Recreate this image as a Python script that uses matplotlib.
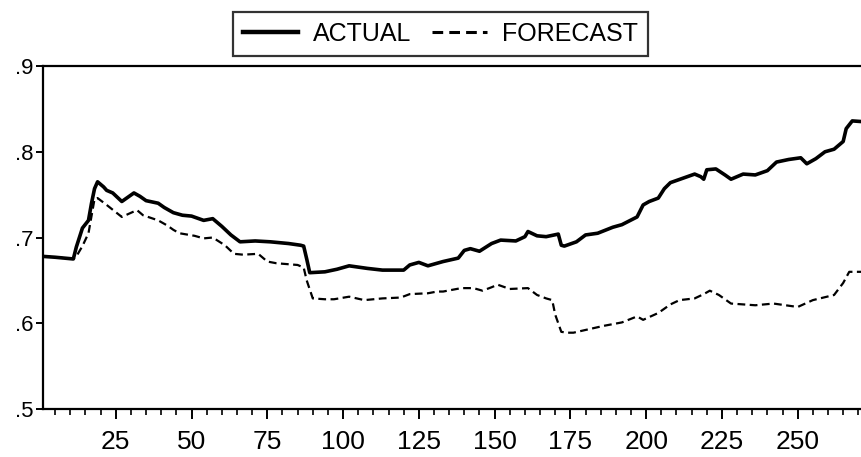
import matplotlib
matplotlib.use("Agg")
import matplotlib.pyplot as plt
from matplotlib.ticker import MultipleLocator, FixedLocator

plt.rcParams['font.family'] = ['Liberation Sans', 'DejaVu Sans']

actual_obs = [1, 5, 11, 12, 14, 16, 17, 18, 19, 21, 22, 24, 27, 31, 33, 35, 39, 41, 44,
              47, 50, 54, 57, 60, 63, 66, 71, 76, 82, 86, 87, 88, 89, 94, 98, 102, 108,
              113, 120, 122, 125, 128, 131, 133, 138, 140, 142, 145, 149, 152, 157, 160,
              161, 164, 167, 171, 172, 173, 177, 180, 184, 189, 192, 197, 199, 201, 204,
              206, 208, 212, 216, 218, 219, 220, 223, 226, 228, 232, 236, 240, 243, 247,
              251, 253, 256, 259, 262, 265, 266, 268, 272]
actual = [0.678, 0.677, 0.675, 0.689, 0.711, 0.720, 0.740, 0.757, 0.765, 0.759, 0.755,
          0.752, 0.742, 0.752, 0.748, 0.743, 0.740, 0.735, 0.729, 0.726, 0.725, 0.720,
          0.722, 0.713, 0.703, 0.695, 0.696, 0.695, 0.693, 0.691, 0.690, 0.675, 0.659,
          0.660, 0.663, 0.667, 0.664, 0.662, 0.662, 0.668, 0.671, 0.667, 0.670, 0.672,
          0.676, 0.685, 0.687, 0.684, 0.693, 0.697, 0.696, 0.701, 0.707, 0.702, 0.701,
          0.704, 0.691, 0.690, 0.695, 0.703, 0.705, 0.712, 0.715, 0.724, 0.738, 0.742,
          0.746, 0.757, 0.764, 0.769, 0.774, 0.771, 0.768, 0.779, 0.780, 0.773, 0.768,
          0.774, 0.773, 0.778, 0.788, 0.791, 0.793, 0.786, 0.792, 0.800, 0.803, 0.812,
          0.827, 0.836, 0.835]

forecast_obs = [1, 5, 11, 12, 14, 16, 17, 18, 19, 22, 27, 32, 34, 39, 42, 44, 46, 51, 54,
                57, 61, 64, 67, 72, 75, 78, 85, 87, 88, 90, 94, 97, 102, 107, 113, 119,
                122, 128, 131, 133, 139, 143, 146, 149, 151, 155, 161, 164, 167, 169, 170,
                172, 174, 176, 181, 186, 192, 197, 199, 204, 208, 211, 216, 219, 221, 224,
                228, 236, 242, 250, 255, 262, 265, 267, 272]
forecast = [0.678, 0.677, 0.675, 0.678, 0.690, 0.705, 0.725, 0.745, 0.746, 0.738, 0.724,
            0.732, 0.726, 0.720, 0.714, 0.709, 0.705, 0.702, 0.699, 0.700, 0.691, 0.681,
            0.680, 0.681, 0.672, 0.670, 0.668, 0.665, 0.650, 0.629, 0.628, 0.628, 0.631,
            0.627, 0.629, 0.630, 0.634, 0.635, 0.637, 0.637, 0.641, 0.641, 0.638, 0.642,
            0.645, 0.640, 0.641, 0.633, 0.629, 0.627, 0.610, 0.590, 0.589, 0.589, 0.593,
            0.597, 0.601, 0.608, 0.604, 0.612, 0.622, 0.627, 0.629, 0.634, 0.638, 0.633,
            0.623, 0.621, 0.623, 0.619, 0.627, 0.633, 0.647, 0.660, 0.660]

y_ticks = [0.5, 0.6, 0.7, 0.8, 0.9]
y_labels = ['.5', '.6', '.7', '.8', '.9']
x_ticks = [25, 50, 75, 100, 125, 150, 175, 200, 225, 250]

fig = plt.figure(figsize=(8.62, 4.57), dpi=100)
# axes run past the right edge, as in the cropped original
ax = fig.add_axes([0.0499, 0.105, 0.981, 0.7505])

ax.plot(actual_obs, actual, color='black', linewidth=2.6, label='ACTUAL')
ax.plot(forecast_obs, forecast, color='black', linewidth=1.6,
        dashes=(3.5, 2), label='FORECAST')

ax.set_xlim(1, 280)
ax.set_ylim(0.5, 0.9)

ax.set_yticks(y_ticks)
ax.set_yticklabels(y_labels, fontsize=16)
ax.xaxis.set_major_locator(FixedLocator(x_ticks))
ax.xaxis.set_minor_locator(MultipleLocator(5))
ax.tick_params(axis='x', which='major', length=7, width=1.4, labelsize=19, pad=8)
ax.tick_params(axis='x', which='minor', length=4, width=1.2)
ax.tick_params(axis='y', which='major', length=5, width=1.4, pad=2)

for side in ['left', 'bottom', 'top']:
    ax.spines[side].set_linewidth(1.6)
ax.spines['right'].set_visible(False)

leg = fig.legend(loc='center', bbox_to_anchor=(0.511, 0.926), ncol=2,
                 fontsize=18, frameon=True, fancybox=False, edgecolor='black',
                 handlelength=2.2, handletextpad=0.6, columnspacing=0.8,
                 borderpad=0.4)
leg.get_frame().set_linewidth(1.6)
for line in leg.get_lines():
    line.set_linewidth(line.get_linewidth() + 0.6)

fig.savefig('out.png', dpi=100)
